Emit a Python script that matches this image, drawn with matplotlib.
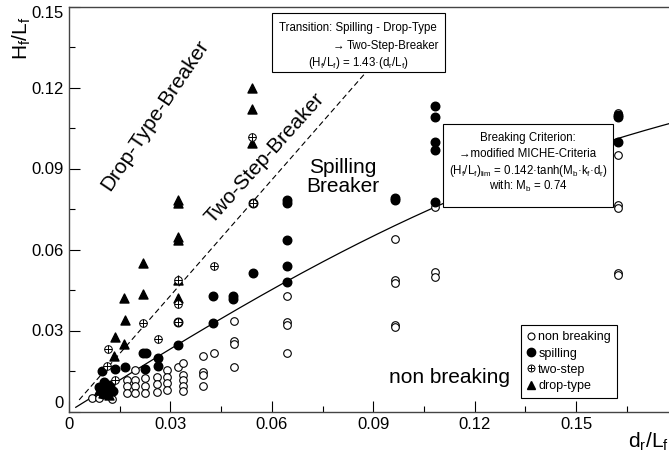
import numpy as np
import matplotlib.pyplot as plt
from matplotlib.patches import Rectangle
from matplotlib.lines import Line2D
from matplotlib.legend_handler import HandlerTuple

plt.rcParams['font.family'] = ['Liberation Sans', 'DejaVu Sans']
plt.rcParams['mathtext.fontset'] = 'custom'
plt.rcParams['mathtext.rm'] = 'Liberation Sans'
plt.rcParams['mathtext.it'] = 'Liberation Sans'

# measured points, d_r/L_f against H_f/L_f
non_x = [0.0068, 0.0088, 0.0128,
         0.0171, 0.0171, 0.0171,
         0.0195, 0.0195, 0.0195, 0.0195,
         0.0225, 0.0225, 0.0225,
         0.0259, 0.0259, 0.0259,
         0.0289, 0.0289, 0.0289, 0.0289,
         0.0323,
         0.0338, 0.0338, 0.0338, 0.0338, 0.0338,
         0.0397, 0.0397, 0.0397, 0.0397,
         0.0429,
         0.0488, 0.0488, 0.0488, 0.0488,
         0.0644, 0.0644, 0.0644, 0.0644,
         0.0964, 0.0964, 0.0964, 0.0964, 0.0964,
         0.1083, 0.1083, 0.1083,
         0.1625, 0.1625, 0.1625, 0.1625, 0.1625, 0.1625]
non_y = [0.0049, 0.0051, 0.0045,
         0.0117, 0.0094, 0.0067,
         0.0154, 0.0117, 0.0094, 0.0067,
         0.0123, 0.0094, 0.0067,
         0.0129, 0.0102, 0.0073,
         0.0154, 0.0129, 0.0104, 0.0080,
         0.0166,
         0.0178, 0.0135, 0.0117, 0.0094, 0.0076,
         0.0206, 0.0148, 0.0135, 0.0094,
         0.0218,
         0.0335, 0.0260, 0.0249, 0.0166,
         0.0428, 0.0333, 0.0320, 0.0218,
         0.0638, 0.0487, 0.0477, 0.0320, 0.0312,
         0.0759, 0.0518, 0.0499,
         0.1107, 0.0950, 0.0765, 0.0753, 0.0514, 0.0506]

spill_x = [0.0097, 0.0104, 0.0121, 0.0090, 0.0112, 0.0129, 0.0100,
           0.0136, 0.0166, 0.0220, 0.0228, 0.0225,
           0.0264, 0.0264, 0.0323, 0.0323,
           0.0427, 0.0427, 0.0486, 0.0486,
           0.0543, 0.0543,
           0.0644, 0.0644, 0.0644, 0.0644, 0.0644,
           0.0964, 0.0964,
           0.1083, 0.1083, 0.1083, 0.1083, 0.1083,
           0.1625, 0.1625, 0.1625]
spill_y = [0.0151, 0.0110, 0.0098, 0.0090, 0.0085, 0.0076, 0.0065,
           0.0156, 0.0166, 0.0218, 0.0218, 0.0156,
           0.0197, 0.0169, 0.0246, 0.0333,
           0.0428, 0.0329, 0.0428, 0.0415,
           0.0512, 0.0771,
           0.0783, 0.0771, 0.0635, 0.0539, 0.0481,
           0.0790, 0.0782,
           0.1131, 0.1092, 0.0999, 0.0969, 0.0777,
           0.1098, 0.1090, 0.0999]

two_x = [0.0112, 0.0114, 0.0135, 0.0220, 0.0264,
         0.0323, 0.0323, 0.0323, 0.0429, 0.0543, 0.0540]
two_y = [0.0169, 0.0231, 0.0118, 0.0327, 0.0267,
         0.0487, 0.0400, 0.0333, 0.0539, 0.0771, 0.1018]

drop_x = [0.0090, 0.0114, 0.0100, 0.0119, 0.0095,
          0.0134, 0.0137, 0.0164, 0.0167, 0.0164,
          0.0218, 0.0218,
          0.0323, 0.0323, 0.0323, 0.0323, 0.0323, 0.0323,
          0.0540, 0.0540, 0.0540]
drop_y = [0.0080, 0.0083, 0.0067, 0.0061, 0.0100,
          0.0207, 0.0277, 0.0249, 0.0339, 0.0419,
          0.0434, 0.0549,
          0.0419, 0.0487, 0.0635, 0.0645, 0.0771, 0.0783,
          0.0993, 0.1119, 0.1197]

# criteria
transition_slope = 1.43
miche_coef = 0.142
Mb = 0.74
kd_per_dL = 7.42   # k_f*d_r per unit d_r/L_f

fig = plt.figure(figsize=(6.69, 4.54), dpi=100)
ax = fig.add_axes([69/669, 1 - 411.5/454, 600/669, 405/454])

# breaking limit (MICHE) and transition line
xl = np.linspace(0.002, 0.1775, 200)
ax.plot(xl, miche_coef*np.tanh(Mb*kd_per_dL*xl), color='black', lw=0.9, zorder=2)
xt = np.linspace(0.003, 0.1259/transition_slope, 50)
ax.plot(xt, transition_slope*xt, color='black', lw=0.8, dashes=(5, 3), zorder=2)

ax.scatter(non_x, non_y, s=30, facecolor='white', edgecolor='black', linewidth=0.8, zorder=3)
ax.scatter(spill_x, spill_y, s=38, color='black', zorder=4)
ax.scatter(drop_x, drop_y, s=42, marker='^', color='black', zorder=4)
ax.scatter(two_x, two_y, s=30, facecolor='white', edgecolor='black', linewidth=0.7, zorder=5)
ax.scatter(two_x, two_y, s=30, marker='+', color='black', linewidth=0.7, zorder=6)

ax.set_xlim(0, 0.1775)
ax.set_ylim(0, 0.15)
ticks = [0, 0.03, 0.06, 0.09, 0.12, 0.15]
labels = ['0', '0.03', '0.06', '0.09', '0.12', '0.15']
ax.set_xticks(ticks, labels)
ax.set_yticks(ticks, labels)
ax.set_xticks(np.arange(0.015, 0.17, 0.03), minor=True)
ax.set_yticks(np.arange(0.015, 0.15, 0.03), minor=True)
ax.tick_params(which='major', direction='in', length=8, width=0.8, labelsize=12, pad=4)
ax.tick_params(which='minor', direction='in', length=4, width=0.8)
# keep the end labels of the y axis inside the frame height
ylab = ax.get_yticklabels()
ylab[0].set_va('bottom')
ylab[-1].set_va('top')
ax.spines['right'].set_visible(False)
for s in ['left', 'bottom', 'top']:
    ax.spines[s].set_linewidth(1.0)
    ax.spines[s].set_color('#444444')

fig.text(22/669, 1 - 38/454, r'$\mathregular{H_f/L_f}$', rotation=90,
         ha='center', va='center', fontsize=15)
fig.text(648/669, 1 - 442/454, r'$\mathregular{d_r/L_f}$',
         ha='center', va='center', fontsize=15)

# regime labels
ax.text(0.0254, 0.1098, 'Drop-Type-Breaker', rotation=56, fontsize=15,
        ha='center', va='center', rotation_mode='anchor')
ax.text(0.0578, 0.0938, 'Two-Step-Breaker', rotation=48, fontsize=15,
        ha='center', va='center', rotation_mode='anchor')
ax.text(0.0810, 0.0869, 'Spilling\nBreaker', fontsize=15, ha='center', va='center',
        linespacing=1.0)
ax.text(0.1125, 0.0125, 'non breaking', fontsize=15, ha='center', va='center')

# annotation boxes
ax.add_patch(Rectangle((0.0600, 0.1259), 0.0512, 0.0216, facecolor='white',
                       edgecolor='black', lw=0.8, zorder=7))
ax.text(0.0856, 0.1420, 'Transition: Spilling - Drop-Type', fontsize=8.3,
        ha='center', va='center', zorder=8)
ax.text(0.0781, 0.1355, '\u2192', fontsize=8.3, ha='left', va='center', zorder=8)
ax.text(0.0823, 0.1355, 'Two-Step-Breaker', fontsize=8.3, ha='left', va='center', zorder=8)
ax.text(0.0856, 0.1292, r'($\mathregular{H_f/L_f}$) = 1.43·($\mathregular{d_r/L_f}$)',
        fontsize=8.3, ha='center', va='center', zorder=8)

ax.add_patch(Rectangle((0.1107, 0.0756), 0.0503, 0.0309, facecolor='white',
                       edgecolor='black', lw=0.8, zorder=7))
ax.text(0.1358, 0.1013, 'Breaking Criterion:', fontsize=8.3, ha='center', va='center', zorder=8)
ax.text(0.1358, 0.0954, '\u2192modified MICHE-Criteria', fontsize=8.3,
        ha='center', va='center', zorder=8)
ax.text(0.1358, 0.0890,
        r'($\mathregular{H_f/L_f}$)$\mathregular{_{lim}}$ = 0.142·tanh($\mathregular{M_b}$·$\mathregular{k_f}$·$\mathregular{d_r}$)',
        fontsize=8.3, ha='center', va='center', zorder=8)
ax.text(0.1358, 0.0834, r'with: $\mathregular{M_b}$ = 0.74', fontsize=8.3,
        ha='center', va='center', zorder=8)

# legend
h_non = Line2D([], [], ls='none', marker='o', ms=5, mfc='white', mec='black', mew=0.8)
h_spill = Line2D([], [], ls='none', marker='o', ms=6, color='black')
h_two = (Line2D([], [], ls='none', marker='o', ms=5, mfc='white', mec='black', mew=0.7),
         Line2D([], [], ls='none', marker='+', ms=5, color='black', mew=0.7))
h_drop = Line2D([], [], ls='none', marker='^', ms=6, color='black')
leg = ax.legend([h_non, h_spill, h_two, h_drop],
                ['non breaking', 'spilling', 'two-step', 'drop-type'],
                handler_map={tuple: HandlerTuple(ndivide=1)},
                loc='lower left', bbox_to_anchor=(0.7528, 0.0326), fontsize=9,
                frameon=True, fancybox=False, edgecolor='black', framealpha=1,
                handlelength=0.6, handletextpad=0.3, labelspacing=0.34,
                borderpad=0.5, borderaxespad=0)
leg.get_frame().set_linewidth(0.8)
leg.set_zorder(9)

fig.savefig('out.png', dpi=100)
